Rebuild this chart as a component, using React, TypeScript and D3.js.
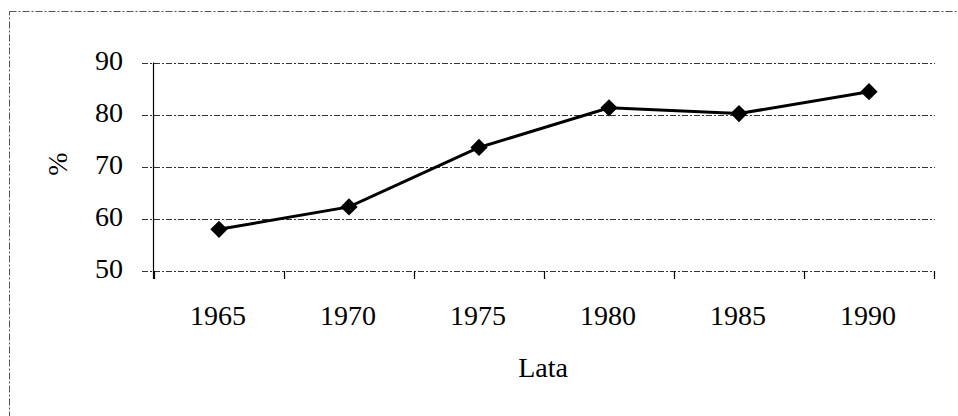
import React from "react";
import * as d3 from "d3";

const years = ["1965", "1970", "1975", "1980", "1985", "1990"];
const values = [58.0, 62.3, 73.7, 81.3, 80.2, 84.4];
const yTicks = [50, 60, 70, 80, 90];
const xTitle = "Lata";
const yTitle = "%";

const W = 958;
const H = 416;

export default function App() {
  const x = d3.scaleBand<string>().domain(years).range([154, 934]).padding(0);
  const y = d3.scaleLinear().domain([50, 90]).range([271, 62.5]);
  const line = d3
    .line<number>()
    .x((_, i) => (x(years[i]) as number) + x.bandwidth() / 2)
    .y((d) => y(d));
  const diamond = d3.symbol().type(d3.symbolDiamond2).size(190)();
  const font = "'Liberation Serif', 'Times New Roman', serif";
  const boundaries = [...years.map((yr) => x(yr) as number), 934];

  return (
    <svg
      width={W}
      height={H}
      style={{ position: "absolute", left: 0, top: 0, background: "#fff" }}
    >
      {/* outer dashed frame */}
      <rect
        x={9.5}
        y={11.5}
        width={960}
        height={420}
        fill="none"
        stroke="#555"
        strokeWidth={1}
        strokeDasharray="7,2,2,2"
      />
      {/* gridlines */}
      {yTicks.map((t) => (
        <line
          key={t}
          x1={142}
          x2={935}
          y1={Math.round(y(t)) + 0.5}
          y2={Math.round(y(t)) + 0.5}
          stroke="#333"
          strokeWidth={1}
          strokeDasharray="6,2,2,2"
        />
      ))}
      {/* y axis */}
      <line x1={153.5} x2={153.5} y1={y(90)} y2={279} stroke="#000" strokeWidth={1.2} />
      {/* x ticks */}
      {boundaries.map((bx, i) => (
        <line
          key={i}
          x1={bx + 0.5}
          x2={bx + 0.5}
          y1={y(50)}
          y2={279}
          stroke="#000"
          strokeWidth={1.2}
        />
      ))}
      {/* y tick labels */}
      {yTicks.map((t) => (
        <text
          key={t}
          x={123}
          y={y(t) + 7}
          textAnchor="end"
          fontFamily={font}
          fontSize={28}
          fill="#000"
        >
          {t}
        </text>
      ))}
      {/* x tick labels */}
      {years.map((yr) => (
        <text
          key={yr}
          x={(x(yr) as number) + x.bandwidth() / 2 - 1}
          y={325}
          textAnchor="middle"
          fontFamily={font}
          fontSize={28}
          fill="#000"
        >
          {yr}
        </text>
      ))}
      {/* axis titles */}
      <text
        x={543}
        y={377}
        textAnchor="middle"
        fontFamily={font}
        fontSize={28}
        fill="#000"
      >
        {xTitle}
      </text>
      <text
        transform="translate(67,164) rotate(-90)"
        textAnchor="middle"
        fontFamily={font}
        fontSize={28}
        fill="#000"
      >
        {yTitle}
      </text>
      {/* series */}
      <path d={line(values) as string} fill="none" stroke="#000" strokeWidth={3} />
      {values.map((v, i) => (
        <path
          key={i}
          d={diamond as string}
          transform={`translate(${(x(years[i]) as number) + x.bandwidth() / 2},${y(v)})`}
          fill="#000"
        />
      ))}
    </svg>
  );
}
